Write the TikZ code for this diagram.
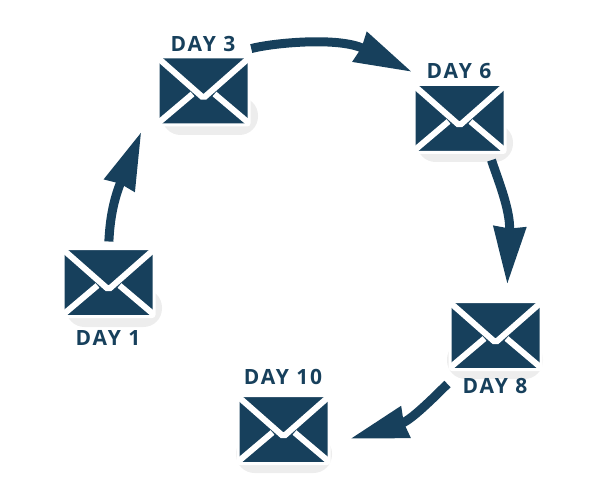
\documentclass[tikz,border=0pt]{standalone}
\usepackage{fontspec}
\setmainfont{Open Sans}
\usetikzlibrary{arrows.meta}
\definecolor{mailblue}{HTML}{17405C}
\definecolor{mailgray}{HTML}{EDEDED}
\begin{document}
\begin{tikzpicture}[x=1pt,y=-1pt,
mailshadow/.style={fill=mailgray,rounded corners=18.5pt,minimum width=96pt,minimum height=38pt,inner sep=0},
mail/.style={fill=mailblue,draw=white,line width=3pt,rounded corners=2pt,minimum width=91pt,minimum height=68pt,inner sep=0,outer sep=0,
  path picture={
    \draw[white,line width=6pt,miter limit=10] (-50,-37) -- (0,7) -- (50,-37);
    \draw[white,line width=6pt] (-50,36) -- (-11,3);
    \draw[white,line width=6pt] (50,36) -- (11,3);
  }},
daylabel/.style={text=mailblue,font=\bfseries\fontsize{21}{23}\selectfont\addfontfeature{LetterSpace=9},inner sep=0},
mailarrow/.style={draw=mailblue,line width=9pt,-{Stealth[length=57pt,width=31pt,inset=1pt]}}]
\useasboundingbox (0,0) rectangle (600,500);
\node[mailshadow] (shadow1) at (114,308) {};
\node[mailshadow] (shadow3) at (210,116) {};
\node[mailshadow] (shadow6) at (465,143) {};
\node[mailshadow] (shadow8) at (495,360) {};
\node[mailshadow] (shadow10) at (284,454) {};
\node[mail] (mail1) at (108.5,282.5) {};
\node[mail] (mail3) at (203.5,91) {};
\node[mail] (mail6) at (459.5,118.5) {};
\node[mail] (mail8) at (495.5,335.5) {};
\node[mail] (mail10) at (283.5,429.5) {};
\node[daylabel] (day1) at (108,338) {DAY 1};
\node[daylabel] (day3) at (203,44) {DAY 3};
\node[daylabel] (day6) at (459,71) {DAY 6};
\node[daylabel] (day8) at (495,386) {DAY 8};
\node[daylabel] (day10) at (283,377) {DAY 10};
\draw[mailarrow,shorten <=7pt,shorten >=44pt] (mail1.north) .. controls +(1,-19) and +(-47,115) .. (mail3.west);
\draw[mailarrow,shorten <=33pt,shorten >=29pt] (mail3.65) .. controls +(53,-14) and +(-100,-48) .. (mail6.122);
\draw[mailarrow,shorten <=8pt,shorten >=17pt] (mail6.311) .. controls +(8,25) and +(4,-92) .. (mail8.72);
\draw[mailarrow,shorten <=21pt,shorten >=22pt] (mail8.226) .. controls +(-21,20) and +(83,-25) .. (mail10.341);
\end{tikzpicture}
\end{document}
